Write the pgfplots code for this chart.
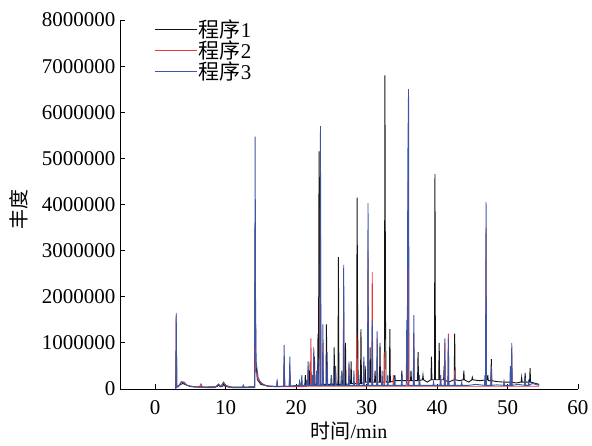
\documentclass[border=0pt]{standalone}
\usepackage{pgfplots}
\pgfplotsset{compat=1.18}
\usepackage{pgfplotstable}
\usepackage{fontspec}
\setmainfont{Liberation Serif}
\newfontfamily\cjk{Noto Sans CJK SC}
\definecolor{progA}{RGB}{20,20,20}
\definecolor{progB}{RGB}{228,60,60}
\definecolor{progC}{RGB}{60,85,165}

% 程序1
\pgfplotstableread{
t y
2.9 0
3.0 800000
3.06 50000
3.5 90000
3.9 120000
4.4 90000
5.0 50000
6.5 40000
8.8 50000
9.0 90000
9.2 50000
9.6 60000
9.7 120000
9.9 60000
10.5 40000
12.4 40000
12.5 70000
12.6 40000
14.1 50000
14.18 3500000
14.26 600000
14.5 200000
15.0 100000
16.0 60000
18.23 60000
18.3 500000
18.37 60000
19.03 60000
19.1 300000
19.17 60000
20.43 80000
20.5 150000
20.57 80000
21.23 80000
21.3 300000
21.37 80000
21.73 90000
21.8 400000
21.87 90000
21.93 90000
22.0 600000
22.07 90000
22.53 100000
22.6 700000
22.67 100000
23.03 100000
23.1 1200000
23.17 100000
23.25 5150000
23.3 2000000
23.34 4600000
23.42 100000
24.23 100000
24.3 1400000
24.37 100000
24.93 100000
25.0 300000
25.07 100000
25.33 100000
25.4 900000
25.47 100000
25.93 100000
26.0 2860000
26.07 100000
26.43 100000
26.5 400000
26.57 100000
26.93 100000
27.0 1000000
27.07 100000
27.73 120000
27.8 600000
27.87 120000
28.58 120000
28.65 4150000
28.72 1600000
28.8 120000
29.13 120000
29.2 1300000
29.27 120000
29.73 150000
29.8 500000
29.87 150000
30.43 150000
30.5 900000
30.57 150000
31.13 150000
31.2 400000
31.27 150000
31.83 150000
31.9 1000000
31.97 150000
32.53 150000
32.6 6800000
32.68 1600000
32.76 150000
33.23 150000
33.3 1300000
33.37 150000
33.93 180000
34.0 300000
34.07 180000
34.6 180000
34.93 180000
35.0 400000
35.07 180000
35.73 180000
35.8 1000000
35.87 180000
36.23 180000
36.3 400000
36.37 180000
37.23 180000
37.3 800000
37.37 180000
37.93 200000
38.0 300000
38.07 200000
38.6 150000
39.13 200000
39.2 700000
39.27 200000
39.63 200000
39.7 4660000
39.77 200000
40.23 200000
40.3 1000000
40.37 200000
40.93 200000
41.0 500000
41.07 200000
41.6 150000
42.43 200000
42.5 1200000
42.57 200000
43.2 180000
43.73 200000
43.8 400000
43.87 200000
44.5 150000
44.93 200000
45.0 250000
45.07 200000
46.0 180000
47.13 200000
47.2 300000
47.27 180000
47.63 180000
47.7 650000
47.77 180000
48.5 160000
49.5 150000
50.43 150000
50.5 250000
50.57 150000
51.2 130000
51.93 150000
52.0 250000
52.07 150000
52.43 150000
52.5 350000
52.57 150000
53.13 150000
53.2 450000
53.27 150000
54.0 120000
54.5 100000
}\progone

% 程序2
\pgfplotstableread{
t y
2.9 0
2.98 1600000
3.06 40000
3.3 60000
3.7 160000
4.1 150000
4.5 80000
5.5 50000
6.3 50000
6.5 110000
6.7 40000
8.5 40000
9.0 110000
9.3 50000
9.7 150000
10.0 70000
11.0 30000
12.4 30000
12.5 70000
12.6 30000
14.1 40000
14.18 1100000
14.26 400000
14.6 200000
15.5 80000
17.23 50000
17.3 150000
17.37 50000
18.23 50000
18.3 700000
18.37 50000
19.03 50000
19.1 500000
19.17 50000
20.73 50000
20.8 200000
20.87 50000
21.63 60000
21.7 500000
21.77 60000
22.03 60000
22.1 1100000
22.17 60000
22.43 60000
22.5 700000
22.57 60000
23.38 60000
23.45 4000000
23.52 60000
23.73 60000
23.8 1000000
23.87 60000
25.53 60000
25.6 400000
25.67 60000
26.68 60000
26.75 2000000
26.82 60000
27.43 60000
27.5 500000
27.57 60000
28.53 60000
28.6 1200000
28.67 60000
29.53 60000
29.6 600000
29.67 60000
30.13 60000
30.2 3000000
30.27 60000
30.73 60000
30.8 2540000
30.87 60000
31.43 60000
31.5 1100000
31.57 60000
32.43 60000
32.5 800000
32.57 60000
33.73 60000
33.8 300000
33.87 60000
35.83 60000
35.9 4500000
35.97 60000
36.63 60000
36.7 1200000
36.77 60000
37.43 60000
37.5 200000
37.57 60000
40.43 60000
40.5 300000
40.57 60000
41.03 60000
41.1 1000000
41.17 60000
41.53 60000
41.6 1200000
41.67 60000
42.43 60000
42.5 400000
42.57 60000
46.88 60000
46.95 3500000
47.02 60000
47.63 60000
47.7 400000
47.77 60000
49.43 60000
49.5 150000
49.57 60000
50.53 60000
50.6 800000
50.67 60000
52.43 60000
52.5 150000
52.57 60000
54.5 60000
}\progtwo

% 程序3
\pgfplotstableread{
t y
2.9 0
2.98 1650000
3.06 40000
3.3 50000
3.7 150000
4.1 140000
4.5 80000
5.0 60000
6.0 40000
6.5 60000
7.0 30000
8.5 30000
9.0 100000
9.3 50000
9.7 140000
10.0 80000
11.0 30000
12.4 30000
12.5 80000
12.6 30000
14.1 30000
14.18 5470000
14.24 1800000
14.32 600000
14.6 250000
15.0 120000
16.0 60000
17.23 50000
17.3 200000
17.37 50000
18.23 60000
18.3 950000
18.37 60000
19.03 60000
19.1 700000
19.17 60000
20.43 70000
20.5 150000
20.57 70000
20.73 70000
20.8 300000
20.87 70000
21.43 80000
21.5 200000
21.57 80000
21.63 80000
21.7 600000
21.77 80000
22.23 80000
22.3 300000
22.37 80000
22.43 80000
22.5 900000
22.57 80000
22.83 80000
22.9 400000
22.97 80000
23.03 80000
23.1 700000
23.17 80000
23.38 80000
23.45 5700000
23.52 80000
23.73 80000
23.8 1400000
23.87 80000
24.33 80000
24.4 800000
24.47 80000
24.93 80000
25.0 300000
25.07 80000
25.53 80000
25.6 500000
25.67 80000
26.33 80000
26.4 300000
26.47 80000
26.68 80000
26.75 2690000
26.82 80000
27.43 80000
27.5 600000
27.57 80000
28.13 80000
28.2 400000
28.27 80000
28.83 80000
28.9 300000
28.97 80000
29.53 80000
29.6 700000
29.67 80000
30.13 80000
30.2 4030000
30.27 80000
30.73 80000
30.8 1500000
30.87 80000
31.43 80000
31.5 1250000
31.57 80000
32.13 80000
32.2 400000
32.27 80000
32.93 80000
33.0 300000
33.07 80000
33.93 80000
34.0 250000
34.07 80000
34.93 80000
35.0 300000
35.07 80000
35.63 80000
35.7 1500000
35.77 300000
35.85 4970000
35.95 6500000
36.02 80000
36.63 80000
36.7 1600000
36.77 80000
37.43 80000
37.5 300000
37.57 80000
38.5 80000
39.43 80000
39.5 150000
39.57 80000
40.43 80000
40.5 300000
40.57 80000
41.03 80000
41.1 1100000
41.17 80000
41.53 80000
41.6 1100000
41.67 80000
42.43 80000
42.5 300000
42.57 80000
43.43 80000
43.5 150000
43.57 80000
44.5 80000
45.5 100000
46.73 80000
46.8 300000
46.87 80000
46.95 4050000
47.02 80000
47.63 80000
47.7 500000
47.77 80000
48.5 90000
49.43 80000
49.5 150000
49.57 80000
50.33 80000
50.4 500000
50.47 80000
50.53 80000
50.6 1000000
50.67 80000
51.5 100000
52.43 80000
52.5 250000
52.57 80000
52.93 80000
53.0 200000
53.07 80000
53.5 120000
54.5 80000
}\progthree

\begin{document}
\begin{tikzpicture}
\useasboundingbox (-120pt,-56pt) rectangle (472pt,389pt);
\begin{axis}[
  at={(0pt,0pt)}, anchor=south west,
  scale only axis,
  width=458pt, height=369pt,
  xmin=-5, xmax=60, ymin=0, ymax=8000000,
  axis lines=left,
  axis line style={-, line width=0.8pt},
  tick align=inside,
  major tick length=5pt,
  tick style={line width=0.8pt, black},
  xtick={0,10,...,60},
  ytick={0,1000000,...,8000000},
  scaled y ticks=false,
  /pgf/number format/assume math mode=true,
  yticklabel style={/pgf/number format/fixed, /pgf/number format/1000 sep={}, xshift=-1pt},
  xticklabel style={yshift=-8pt},
  ticklabel style={font=\fontsize{21}{24}\selectfont},
  xlabel={{\cjk 时间}/min},
  ylabel={\cjk 丰度},
  label style={font=\fontsize{20}{24}\selectfont},
  ylabel style={yshift=7pt, xshift=-5pt},
  legend style={draw=none, fill=none, at={(0.076,1.0)}, anchor=north west,
    font=\fontsize{21}{24}\selectfont, row sep=1.5pt, inner sep=0pt,
    nodes={inner xsep=1pt, inner ysep=0pt}},
  legend cell align=left,
  legend image code/.code={\draw[#1] (0pt,0pt) -- (42pt,0pt);},
  every axis plot/.append style={line width=0.9pt},
]
\addplot[progA] table[x=t,y=y] {\progone};
\addplot[progB] table[x=t,y=y] {\progtwo};
\addplot[progC] table[x=t,y=y] {\progthree};
\legend{{\cjk 程序}1,{\cjk 程序}2,{\cjk 程序}3}
\end{axis}
\end{tikzpicture}
\end{document}
